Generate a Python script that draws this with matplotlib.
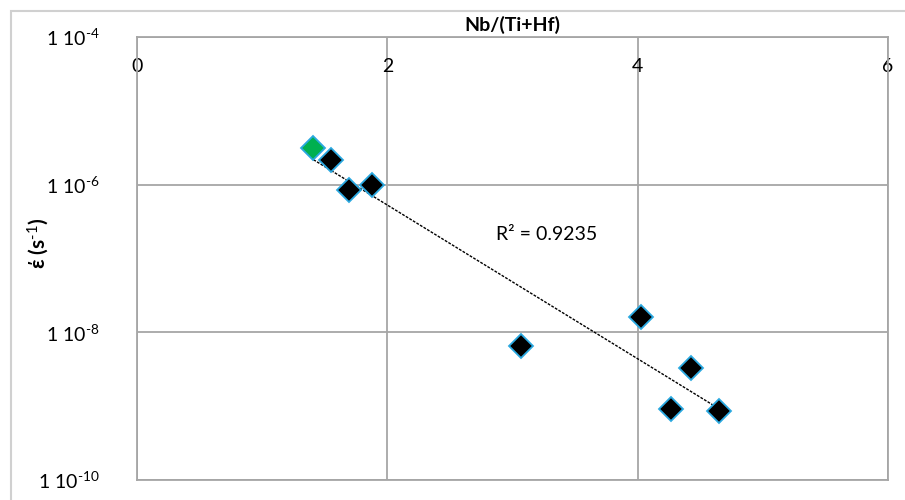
import numpy as np
import matplotlib.pyplot as plt
from matplotlib.patches import Rectangle

# Nb/(Ti+Hf) ratio vs creep rate
x_green = [1.41]
y_green = [3.1e-6]
x_black = [1.55, 1.69, 1.88, 3.07, 4.03, 4.43, 4.27, 4.65]
y_black = [2.15e-6, 8.4e-7, 9.9e-7, 6.5e-9, 1.6e-8, 3.3e-9, 9.1e-10, 8.5e-10]
r2_text = "R² = 0.9235"

xticks = [0, 2, 4, 6]
yticks = [1e-4, 1e-6, 1e-8, 1e-10]
ytick_labels = ["1 10$^{\\text{-4}}$", "1 10$^{\\text{-6}}$", "1 10$^{\\text{-8}}$", "1 10$^{\\text{-10}}$"]

plt.rcParams['font.family'] = ['Lato', 'DejaVu Sans']
plt.rcParams['mathtext.fontset'] = 'custom'
plt.rcParams['mathtext.rm'] = 'Lato'
plt.rcParams['mathtext.bf'] = 'Lato:bold'
plt.rcParams['mathtext.default'] = 'regular'

fig = plt.figure(figsize=(9.05, 5), dpi=100)
# outer chart frame
fig.patches.append(Rectangle((11 / 905, -0.1), 1.2, 1 - 11 / 500 + 0.1, transform=fig.transFigure,
                             fill=False, edgecolor='#d0d0d0', linewidth=1.5))
ax = fig.add_axes([137 / 905, 20 / 500, 751 / 905, 443 / 500])

ax.set_yscale('log')
ax.set_xlim(0, 6)
ax.set_ylim(1e-10, 1e-4)
ax.set_xticks(xticks)
ax.set_yticks(yticks)
ax.set_yticklabels(ytick_labels)
ax.yaxis.set_minor_locator(plt.NullLocator())
ax.grid(True, color='#a6a6a6', linewidth=1.3)
ax.set_axisbelow(True)
for s in ax.spines.values():
    s.set_color('#a6a6a6')
    s.set_linewidth(1.3)

ax.tick_params(axis='x', top=False, bottom=False, labelbottom=False, labeltop=True,
               length=0, pad=-27, labelsize=14)
ax.tick_params(axis='y', length=0, pad=27, labelsize=14)

# trendline (exponential fit over all points)
xs = np.array(x_green + x_black)
ys = np.array(y_green + y_black)
b, a = np.polyfit(xs, np.log(ys), 1)
xl = np.linspace(xs.min(), xs.max(), 50)
ax.plot(xl, np.exp(a + b * xl), color='black', linewidth=1, linestyle=(0, (2, 1)), zorder=2)

ax.plot(x_black, y_black, 'D', color='black', markeredgecolor='#2aa8e0', markersize=12.5,
        markeredgewidth=1.3, zorder=3)
ax.plot(x_green, y_green, 'D', color='#00b050', markeredgecolor='#2aa8e0', markersize=12.5,
        markeredgewidth=1.3, zorder=3)

ax.text(3.275, 2.1e-7, r2_text, fontsize=14, ha='center', va='center')

fig.text(512 / 905, 1 - 25 / 500, "Nb/(Ti+Hf)", fontsize=14, fontweight='bold',
         ha='center', va='center')
fig.text(38 / 905, 1 - 243 / 500, "έ (s$^{\\mathbf{\\text{-1}}}$)", fontsize=15, fontweight='bold',
         rotation=90, ha='center', va='center')

fig.savefig('out.png', dpi=100)
